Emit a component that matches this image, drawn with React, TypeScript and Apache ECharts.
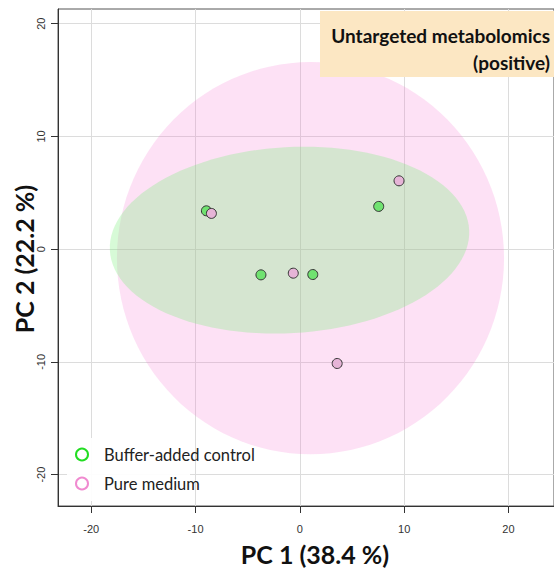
import React, { useEffect, useRef } from 'react';
import * as echarts from 'echarts';

const groups = ['Buffer-added control', 'Pure medium'];
const bufferX = [-8.96, 7.56, -3.73, 1.24];
const bufferY = [3.4, 3.79, -2.28, -2.25];
const pureX = [-8.48, 9.51, -0.63, 3.58];
const pureY = [3.17, 6.06, -2.13, -10.14];
// confidence ellipses: [centerX, centerY, radiusX, radiusY, angleDeg]
const pureEllipse = [1.02, -0.8, 18.56, 17.39, 0];
const bufferEllipse = [-0.99, 0.8, 17.25, 8.25, 2.94];
const xTicks = [-20, -10, 0, 10, 20];
const yTicks = [-20, -10, 0, 10, 20];
const xTitle = 'PC 1 (38.4 %)';
const yTitle = 'PC 2 (22.2 %)';
const titleLines = ['Untargeted metabolomics', '(positive)'];

const ellipseRender = (fill: string) => (params: any, api: any) => {
  const cx = api.value(0);
  const cy = api.value(1);
  const rx = api.value(2);
  const ry = api.value(3);
  const a = (api.value(4) * Math.PI) / 180;
  const pts: number[][] = [];
  const n = 120;
  for (let i = 0; i < n; i++) {
    const t = (i / n) * Math.PI * 2;
    const x = cx + rx * Math.cos(t) * Math.cos(a) - ry * Math.sin(t) * Math.sin(a);
    const y = cy + rx * Math.cos(t) * Math.sin(a) + ry * Math.sin(t) * Math.cos(a);
    pts.push(api.coord([x, y]));
  }
  return { type: 'polygon', shape: { points: pts }, style: { fill } };
};

export default function App() {
  const ref = useRef<HTMLDivElement>(null);
  useEffect(() => {
    if (!ref.current) return;
    const chart = echarts.init(ref.current, undefined, { renderer: 'svg' });
    const tickFont = { fontSize: 11, color: '#333', fontFamily: 'Liberation Sans, Arial, sans-serif' };
    chart.setOption({
      animation: false,
      backgroundColor: '#fff',
      grid: { left: 58, top: 9, right: -1, bottom: 63, show: true, borderColor: '#555', borderWidth: 1, backgroundColor: 'transparent' },
      xAxis: {
        type: 'value', min: -23.19, max: 24.37,
        axisLine: { show: true, onZero: false, lineStyle: { color: '#333', width: 1 } },
        axisTick: { show: true, length: 7, customValues: xTicks, lineStyle: { color: '#333' } },
        axisLabel: { customValues: xTicks, margin: 17, ...tickFont },
        splitLine: { show: true, lineStyle: { color: '#dcdcdc', width: 1 } },
      },
      yAxis: {
        type: 'value', min: -22.78, max: 21.3,
        axisLine: { show: true, onZero: false, lineStyle: { color: '#333', width: 1 } },
        axisTick: { show: true, length: 7, customValues: yTicks, lineStyle: { color: '#333' } },
        axisLabel: { customValues: yTicks, margin: 12, rotate: 90, ...tickFont },
        splitLine: { show: true, lineStyle: { color: '#dcdcdc', width: 1 } },
      },
      legend: {
        orient: 'vertical', left: 75, top: 446, padding: 0,
        itemWidth: 12, itemHeight: 12, itemGap: 12,
        textStyle: { fontSize: 16.5, color: '#222', fontFamily: 'Lato, sans-serif', lineHeight: 17, padding: [0, 0, 0, 11] },
        data: [
          { name: groups[0], icon: 'circle', itemStyle: { color: 'transparent', borderColor: '#22dd22', borderWidth: 2 } },
          { name: groups[1], icon: 'circle', itemStyle: { color: 'transparent', borderColor: '#f08ad0', borderWidth: 2 } },
        ],
      },
      graphic: [
        { type: 'rect', z: 1, shape: { x: 67, y: 438, width: 123, height: 63 }, style: { fill: 'rgba(255,255,255,0.92)' } },
        { type: 'rect', z: 10, shape: { x: 320, y: 11, width: 240, height: 66 }, style: { fill: '#fce7c3' } },
        { type: 'text', z: 11, x: 550, y: 35, style: { text: titleLines[0], textAlign: 'right', textVerticalAlign: 'middle', fontSize: 19, fontWeight: 'bold', fontFamily: 'Lato, sans-serif', fill: '#111' } },
        { type: 'text', z: 11, x: 550, y: 62, style: { text: titleLines[1], textAlign: 'right', textVerticalAlign: 'middle', fontSize: 19, fontWeight: 'bold', fontFamily: 'Lato, sans-serif', fill: '#111' } },
        { type: 'text', z: 11, x: 315, y: 554, style: { text: xTitle, textAlign: 'center', textVerticalAlign: 'middle', fontSize: 25, fontWeight: 'bold', fontFamily: 'Lato, sans-serif', fill: '#111' } },
        { type: 'text', z: 11, x: 24, y: 259, rotation: Math.PI / 2, style: { text: yTitle, textAlign: 'center', textVerticalAlign: 'middle', fontSize: 25, fontWeight: 'bold', fontFamily: 'Lato, sans-serif', fill: '#111' } },
      ],
      series: [
        { type: 'custom', name: 'pure-ellipse', renderItem: ellipseRender('rgba(248,120,210,0.22)'), data: [pureEllipse], encode: { x: 0, y: 1 }, silent: true, z: 1 },
        { type: 'custom', name: 'buffer-ellipse', renderItem: ellipseRender('rgba(122,238,122,0.3)'), data: [bufferEllipse], encode: { x: 0, y: 1 }, silent: true, z: 1 },
        {
          type: 'scatter', name: groups[0], symbolSize: 10, z: 3,
          itemStyle: { color: '#70e270', borderColor: '#333', borderWidth: 1, opacity: 1 },
          data: bufferX.map((x, i) => [x, bufferY[i]]),
        },
        {
          type: 'scatter', name: groups[1], symbolSize: 10, z: 3,
          itemStyle: { color: '#e6b4d7', borderColor: '#333', borderWidth: 1, opacity: 1 },
          data: pureX.map((x, i) => [x, pureY[i]]),
        },
      ],
    });
    return () => chart.dispose();
  }, []);
  return <div ref={ref} style={{ position: 'fixed', left: 0, top: 0, width: 554, height: 569 }} />;
}
